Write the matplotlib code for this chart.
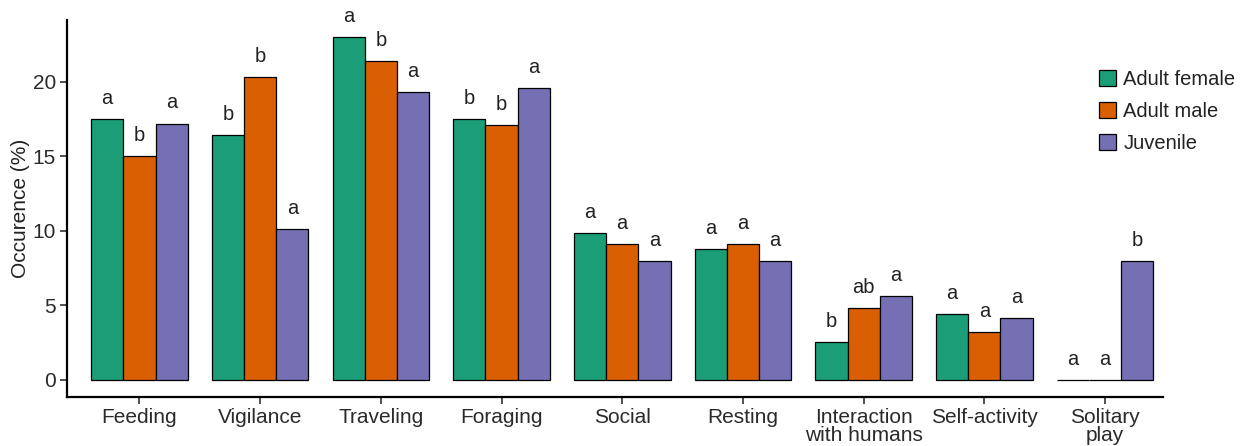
import matplotlib
matplotlib.use('Agg')
import matplotlib.pyplot as plt
import numpy as np

plt.rcParams['font.family'] = ['Liberation Sans', 'DejaVu Sans']

# Data
categories = ['Feeding', 'Vigilance', 'Traveling', 'Foraging', 'Social', 'Resting',
              'Interaction\nwith humans', 'Self-activity', 'Solitary\nplay']
groups = ['Adult female', 'Adult male', 'Juvenile']
female = [17.5, 16.4, 23.0, 17.5, 9.85, 8.8, 2.55, 4.4, 0.0]
male = [15.0, 20.3, 21.4, 17.1, 9.1, 9.1, 4.8, 3.2, 0.0]
juvenile = [17.2, 10.1, 19.3, 19.6, 8.0, 8.0, 5.65, 4.15, 8.0]
letters_female = ['a', 'b', 'a', 'b', 'a', 'a', 'b', 'a', 'a']
letters_male = ['b', 'b', 'b', 'b', 'a', 'a', 'ab', 'a', 'a']
letters_juvenile = ['a', 'a', 'a', 'a', 'a', 'a', 'a', 'a', 'b']
colors = ['#1B9E77', '#D95F02', '#7570B3']

series = [female, male, juvenile]
letters = [letters_female, letters_male, letters_juvenile]

fig = plt.figure(figsize=(12.42, 4.46), dpi=100)
ax = fig.add_axes([67 / 1242, 1 - 397 / 446, (1163 - 67) / 1242, (397 - 20) / 446])

x = np.arange(1, len(categories) + 1)
width = 0.8 / 3
text_col = '#2a2a2a'

for i, (vals, lab, col) in enumerate(zip(series, letters, colors)):
    pos = x + (i - 1) * width
    ax.bar(pos, vals, width, color=col, edgecolor='black', linewidth=0.9, label=groups[i])
    for p, v, l in zip(pos, vals, lab):
        ax.annotate(l, (p, v), xytext=(0, 8), textcoords='offset points',
                    ha='center', va='bottom', fontsize=14.5, color='#222222')

ax.set_xlim(0.4, 9.48)
ax.set_ylim(-1.15, 24.15)
ax.set_yticks([0, 5, 10, 15, 20])
ax.set_xticks(x)
ax.set_xticklabels(categories, linespacing=0.92)
ax.set_ylabel('Occurence (%)', fontsize=15, color='#222222', labelpad=2)

for s in ['top', 'right']:
    ax.spines[s].set_visible(False)
for s in ['left', 'bottom']:
    ax.spines[s].set_linewidth(1.6)
    ax.spines[s].set_color('black')
ax.tick_params(axis='both', labelsize=15, labelcolor=text_col, colors='#333333',
               length=5, width=1.2, pad=3)

leg = fig.legend(loc='upper left', bbox_to_anchor=(1099 / 1242, 1 - 70 / 446), frameon=False,
                 fontsize=14.5, handlelength=0.85, handleheight=0.85,
                 handletextpad=0.35, labelspacing=0.65, borderaxespad=0, borderpad=0)
for t in leg.get_texts():
    t.set_color('#222222')

fig.savefig('out.png', dpi=100)
